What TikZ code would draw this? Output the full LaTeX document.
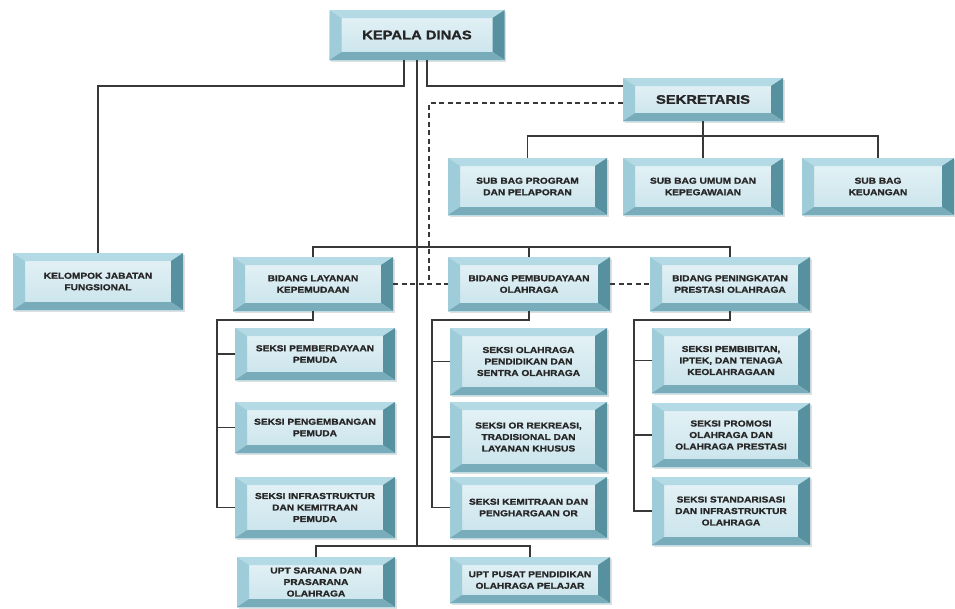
\documentclass[tikz,border=0pt]{standalone}
\usepackage{fontspec}
\newfontfamily\boxfont[FakeStretch=1.18, BoldFeatures={FakeBold=1.3}]{Liberation Sans}
\usepackage{tikz}
\usetikzlibrary{shadows}

\definecolor{faceT}{HTML}{E6F3F7}
\definecolor{faceB}{HTML}{C8E3EB}
\definecolor{bevTop}{HTML}{B3DAE5}
\definecolor{bevLeft}{HTML}{9FCCD9}
\definecolor{bevRight}{HTML}{57909F}
\definecolor{bevBot}{HTML}{78ACBA}
\definecolor{boxtext}{HTML}{262626}
\definecolor{linegray}{HTML}{383838}

\tikzset{
  box/.style={rectangle, inner sep=0pt, align=center, text=boxtext,
    font=\boxfont\bfseries\fontsize{8.6}{11.5}\selectfont,
    top color=faceT, bottom color=faceB,
    drop shadow={shadow xshift=1.5pt, shadow yshift=-1.5pt, opacity=0.25},
    path picture={
      \path (path picture bounding box.north west) coordinate (pnw)
            (path picture bounding box.north east) coordinate (pne)
            (path picture bounding box.south west) coordinate (psw)
            (path picture bounding box.south east) coordinate (pse)
            ([shift={(12pt,-8pt)}]path picture bounding box.north west) coordinate (qnw)
            ([shift={(-12pt,-8pt)}]path picture bounding box.north east) coordinate (qne)
            ([shift={(12pt,8pt)}]path picture bounding box.south west) coordinate (qsw)
            ([shift={(-12pt,8pt)}]path picture bounding box.south east) coordinate (qse);
      \fill[bevTop] (pnw) -- (pne) -- (qne) -- (qnw) -- cycle;
      \fill[bevLeft] (pnw) -- (qnw) -- (qsw) -- (psw) -- cycle;
      \fill[bevRight] (pne) -- (pse) -- (qse) -- (qne) -- cycle;
      \fill[bevBot] (psw) -- (qsw) -- (qse) -- (pse) -- cycle;
    }},
  bigbox/.style={box, font=\boxfont\bfseries\fontsize{12.5}{15}\selectfont},
  sz/.style 2 args={minimum width=#1pt, minimum height=#2pt},
  conn/.style={draw=linegray, line width=1.6pt},
  dashconn/.style={conn, dash pattern=on 5pt off 3.5pt},
}

\begin{document}
\begin{tikzpicture}[x=1pt, y=-1pt]
  \useasboundingbox (0,0) rectangle (955,608);

  % top
  \node[bigbox, sz={175}{50}] (kd) at (417,35) {KEPALA DINAS};
  \node[bigbox, sz={160}{43}] (sek) at (703,99.5) {SEKRETARIS};

  \node[box, sz={159}{57}] (sbp) at (527.5,186.5) {SUB BAG PROGRAM\\DAN PELAPORAN};
  \node[box, sz={160}{57}] (sbu) at (703,186.5) {SUB BAG UMUM DAN\\KEPEGAWAIAN};
  \node[box, sz={152}{57}] (sbk) at (878,186.5) {SUB BAG\\KEUANGAN};

  % bidang
  \node[box, sz={170}{57}] (kjf) at (98,281.5) {KELOMPOK JABATAN\\FUNGSIONAL};
  \node[box, sz={160}{54}] (blk) at (313,284) {BIDANG LAYANAN\\KEPEMUDAAN};
  \node[box, sz={162}{54}] (bpo) at (529,284) {BIDANG PEMBUDAYAAN\\OLAHRAGA};
  \node[box, sz={160}{54}] (bpp) at (730,284) {BIDANG PENINGKATAN\\PRESTASI OLAHRAGA};

  % seksi
  \node[box, sz={160}{52}] (sl1) at (315,354) {SEKSI PEMBERDAYAAN\\PEMUDA};
  \node[box, sz={160}{51}] (sl2) at (315,427.5) {SEKSI PENGEMBANGAN\\PEMUDA};
  \node[box, sz={160}{61}] (sl3) at (315,507.5) {SEKSI INFRASTRUKTUR\\DAN KEMITRAAN\\PEMUDA};

  \node[box, sz={157}{67}] (sm1) at (528.5,361.5) {SEKSI OLAHRAGA\\PENDIDIKAN DAN\\SENTRA OLAHRAGA};
  \node[box, sz={157}{70}] (sm2) at (528.5,437) {SEKSI OR REKREASI,\\TRADISIONAL DAN\\LAYANAN KHUSUS};
  \node[box, sz={157}{61}] (sm3) at (528.5,507.5) {SEKSI KEMITRAAN DAN\\PENGHARGAAN OR};

  \node[box, sz={158}{65}] (sr1) at (731,360.5) {SEKSI PEMBIBITAN,\\IPTEK, DAN TENAGA\\KEOLAHRAGAAN};
  \node[box, sz={158}{64}] (sr2) at (731,435) {SEKSI PROMOSI\\OLAHRAGA DAN\\OLAHRAGA PRESTASI};
  \node[box, sz={158}{68}] (sr3) at (731,511) {SEKSI STANDARISASI\\DAN INFRASTRUKTUR\\OLAHRAGA};

  % upt
  \node[box, sz={158}{50}] (u1) at (316,582) {UPT SARANA DAN\\PRASARANA\\OLAHRAGA};
  \node[box, sz={160}{46}] (u2) at (530,580) {UPT PUSAT PENDIDIKAN\\OLAHRAGA PELAJAR};

  \coordinate (dj) at (429,284);

  \draw[conn] ([xshift=-13pt]kd.south) -- ++(0,26) -| (kjf.north);
  \draw[conn] ([xshift=10pt]kd.south) |- ([yshift=13.5pt]sek.west);
  \draw[dashconn] ([yshift=-3.5pt]sek.west) -| (dj);

  \draw[conn] (sek.south) -- ++(0,15);
  \draw[conn] (sbp.north) -- ++(0,-22) -| (sbk.north);
  \draw[conn] (sbu.north) -- ++(0,-22);

  \draw[conn] (blk.north) -- ++(0,-10) -| (bpp.north);
  \draw[conn] (bpo.north) -- ++(0,-10);
  \draw[dashconn] (blk.east) -- (bpo.west);
  \draw[dashconn] (bpo.east) -- (bpp.west);

  \draw[conn] (blk.south) -- ++(0,9) -| ([xshift=-18pt]sl3.west) -- (sl3.west);
  \draw[conn] (bpo.south) -- ++(0,9) -| ([xshift=-18pt]sm3.west) -- (sm3.west);
  \draw[conn] (bpp.south) -- ++(0,9) -| ([xshift=-18pt]sr3.west) -- (sr3.west);
  \foreach \s in {sl1,sl2,sm1,sm2,sr1,sr2}
    \draw[conn] ([xshift=-18pt]\s.west) -- (\s.west);

  \draw[conn] (u1.north) -- ++(0,-11) coordinate (ub) -| (u2.north);
  \draw[conn] (kd.south) -- (kd.south |- ub);
\end{tikzpicture}
\end{document}
